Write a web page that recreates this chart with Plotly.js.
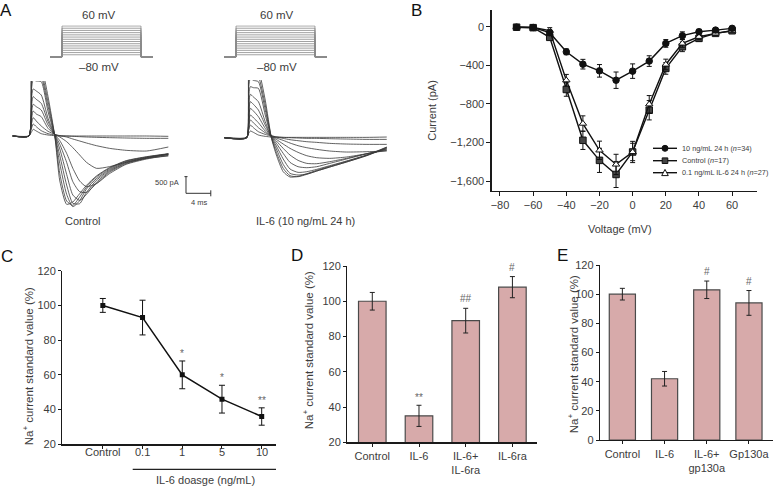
<!DOCTYPE html>
<html>
<head>
<meta charset="utf-8">
<script src="https://cdn.plot.ly/plotly-3.0.1.min.js"></script>
<style>
  body { margin: 0; background: #fff; }
  #chart { width: 774px; height: 486px; }
</style>
</head>
<body>
<div id="chart"></div>
<script>
// ---- panel A: voltage step protocol (mV) ----
var holdingPotential = -80;
var protoTime = [0, 4.9, 4.9, 37.1, 37.1, 42];
var stepVoltages = [-70, -60, -50, -40, -30, -20, -10, 0, 10, 20, 30, 40, 50, 60];

// ---- panel A: current traces (pA) against time (ms) ----
var ctrlTime = [0, 2.6, 3.0, 3.3, 3.8, 4.6, 5.7, 6.8, 7.6, 8.7, 9.7, 10.8, 11.9, 13.5, 15.6, 18.3, 21.6, 25.1];
var ctrlTraces = [
  [0, 0, 110, 200, 150, 70, 30, 10, 0, 0, 0, 0, 0, 0, 0, 0, 0, -10],
  [0, 0, 210, 360, 280, 160, 70, 30, 10, 0, -10, -20, -30, -40, -50, -60, -70, -70],
  [0, 0, 330, 550, 450, 300, 140, 50, 10, -30, -90, -150, -210, -290, -370, -430, -450, -330],
  [0, 0, 450, 750, 660, 580, 230, 50, -30, -170, -350, -570, -790, -970, -920, -790, -670, -600],
  [0, 0, 630, 950, 880, 780, 330, 40, -140, -520, -970, -1350, -1520, -1430, -1130, -850, -690, -580],
  [0, 0, 830, 1180, 1100, 980, 430, 30, -250, -790, -1370, -1670, -1690, -1430, -1090, -830, -670, -560],
  [0, 0, 1080, 1410, 1350, 1230, 530, 20, -390, -1150, -1770, -1930, -1750, -1390, -1060, -810, -660, -550],
  [0, 0, 1330, 1680, 1650, 1630, 730, 10, -590, -1470, -2020, -2030, -1690, -1330, -1030, -790, -650, -540],
  [0, 0, 1580, 1980, 1900, 1780, 880, 0, -830, -1750, -2120, -1940, -1590, -1280, -1000, -770, -640, -540],
  [0, 0, 1780, 2280, 2150, 1930, 1030, -10, -1130, -1950, -2080, -1830, -1530, -1230, -970, -750, -630, -540],
  [0, 0, 1930, 2530, 2400, 2130, 1180, -20, -1350, -2050, -1980, -1730, -1480, -1200, -950, -740, -620, -530]
];
var il6Time = [0, 3.6, 3.9, 4.2, 4.7, 5.5, 6.6, 7.6, 8.4, 9.5, 10.6, 11.9, 13.3, 14.9, 17.0, 19.7, 23.0, 26.2];
var il6Traces = [
  [0, 0, 120, 200, 160, 80, 40, 20, 10, 10, 10, 10, 10, 10, 10, 10, 10, 20],
  [0, 0, 220, 380, 300, 180, 100, 50, 30, 10, 0, -10, -20, -20, -30, -40, -50, -50],
  [0, 0, 330, 530, 450, 300, 150, 60, 20, -20, -60, -90, -120, -140, -170, -190, -200, -200],
  [0, 0, 430, 680, 600, 450, 200, 60, -10, -80, -160, -240, -300, -350, -400, -430, -420, -400],
  [0, 0, 580, 880, 800, 630, 280, 50, -50, -190, -320, -440, -540, -600, -620, -580, -480, -380],
  [0, 0, 760, 1080, 1000, 830, 380, 40, -100, -320, -520, -680, -770, -780, -720, -620, -480, -360],
  [0, 0, 960, 1300, 1220, 1080, 480, 30, -170, -470, -740, -870, -900, -870, -770, -640, -480, -340],
  [0, 0, 1200, 1530, 1500, 1480, 680, 20, -250, -640, -940, -1040, -1020, -950, -840, -700, -520, -320],
  [0, 0, 1440, 1780, 1720, 1680, 830, 10, -340, -800, -1070, -1120, -1090, -1000, -880, -730, -540, -300],
  [0, 0, 1660, 2080, 1950, 1830, 980, 0, -440, -920, -1140, -1170, -1100, -1000, -880, -730, -530, -290],
  [0, 0, 1830, 2380, 2200, 2030, 1130, -10, -520, -1020, -1180, -1160, -1080, -980, -860, -710, -520, -280]
];
var scaleBarTime = 4;      // ms
var scaleBarCurrent = 500; // pA

// ---- panel B: I-V curves ----
var voltages = [-70, -60, -50, -40, -30, -20, -10, 0, 10, 20, 30, 40, 50, 60];
var ivHigh = [-5, -8, -62, -260, -388, -457, -554, -460, -356, -173, -93, -52, -35, -17];
var ivHighErr = [10, 10, 30, 30, 50, 65, 85, 75, 55, 40, 40, 25, 20, 15];
var ivCtrl = [-5, -10, -110, -650, -1176, -1384, -1530, -1297, -865, -432, -208, -121, -69, -42];
var ivCtrlErr = [10, 10, 25, 70, 95, 125, 135, 110, 100, 60, 50, 30, 20, 15];
var ivLow = [-5, -8, -40, -554, -1003, -1280, -1426, -1297, -803, -391, -173, -104, -69, -42];
var ivLowErr = [10, 10, 30, 60, 80, 95, 105, 90, 90, 55, 40, 30, 20, 15];
var ivNames = ['10 ng/mL 24 h (<i>n</i>=34)', 'Control (<i>n</i>=17)', '0.1 ng/mL IL-6 24 h (<i>n</i>=27)'];

// ---- panel C: dose response ----
var doseLabels = ['Control', '0.1', '1', '5', '10'];
var doseValues = [100, 93, 60, 46, 36];
var doseErr = [4, 10, 8, 8, 5];
var doseMarks = ['', '', '*', '*', '**'];

// ---- panel D: IL-6ra ----
var raLabels = ['Control', 'IL-6', 'IL-6+<br>IL-6ra', 'IL-6ra'];
var raValues = [100, 35, 89, 108];
var raErr = [5, 6, 7, 6];
var raMarks = ['', '**', '##', '#'];

// ---- panel E: gp130a ----
var gpLabels = ['Control', 'IL-6', 'IL-6+<br>gp130a', 'Gp130a'];
var gpValues = [100, 42, 103, 94];
var gpErr = [4, 5, 6, 8.5];
var gpMarks = ['', '', '#', '#'];

var W = 774, H = 486;
var FONT = 'Liberation Sans, Arial, sans-serif';
var TXT = '#3c3c3c';
var BAR = '#D7AAAA';
function px(x) { return x / W; }
function py(y) { return 1 - y / H; }

var data = [];

// step protocols
stepVoltages.forEach(function (v) {
  ['', '2'].forEach(function (n) {
    data.push({
      x: protoTime, y: [holdingPotential, holdingPotential, v, v, holdingPotential, holdingPotential],
      xaxis: 'x' + n, yaxis: 'y' + n, mode: 'lines',
      line: { color: '#8a8a8a', width: 0.8 }, hoverinfo: 'skip'
    });
  });
});

// current families
ctrlTraces.forEach(function (tr) {
  data.push({ x: ctrlTime, y: tr, xaxis: 'x3', yaxis: 'y3', mode: 'lines',
    line: { color: '#3a3a3a', width: 0.8, shape: 'spline', smoothing: 0.6 }, hoverinfo: 'skip' });
});
il6Traces.forEach(function (tr) {
  data.push({ x: il6Time, y: tr, xaxis: 'x4', yaxis: 'y4', mode: 'lines',
    line: { color: '#3a3a3a', width: 0.8, shape: 'spline', smoothing: 0.6 }, hoverinfo: 'skip' });
});

// I-V curves
function ivTrace(y, err, symbol, fill) {
  return {
    x: voltages, y: y, xaxis: 'x5', yaxis: 'y5', mode: 'lines+markers',
    line: { color: '#111', width: 1.4 },
    marker: { symbol: symbol, size: 6.5, color: fill, line: { color: '#111', width: 1 } },
    error_y: { type: 'data', array: err, visible: true, color: '#111', thickness: 1, width: 2.5 }
  };
}
data.push(ivTrace(ivCtrl, ivCtrlErr, 'square', '#444'));
data.push(ivTrace(ivLow, ivLowErr, 'triangle-up', '#fff'));
data.push(ivTrace(ivHigh, ivHighErr, 'circle', '#111'));

// dose response
data.push({
  x: doseLabels, y: doseValues, xaxis: 'x6', yaxis: 'y6', mode: 'lines+markers',
  line: { color: '#111', width: 1.5 },
  marker: { symbol: 'square', size: 5, color: '#111' },
  error_y: { type: 'data', array: doseErr, visible: true, color: '#111', thickness: 1, width: 3 }
});

function barTrace(x, y, err, xa, ya, w) {
  return {
    type: 'bar', x: x, y: y, xaxis: xa, yaxis: ya, width: w,
    marker: { color: BAR, line: { color: '#4a4a4a', width: 1.2 } },
    error_y: { type: 'data', array: err, visible: true, color: '#222', thickness: 1, width: 2.5 }
  };
}
data.push(barTrace(raLabels, raValues, raErr, 'x7', 'y7', 0.59));
data.push(barTrace(gpLabels, gpValues, gpErr, 'x8', 'y8', 0.62));

function blank(d, r, anchor) {
  return { domain: d, range: r, visible: false, fixedrange: true, anchor: anchor };
}
function axis(d, r, anchor, extra) {
  var a = {
    domain: d, range: r, anchor: anchor, showline: true, linecolor: '#1a1a1a', linewidth: 1.3,
    ticks: 'outside', ticklen: 4, tickwidth: 1, tickcolor: '#1a1a1a', showgrid: false, zeroline: false,
    tickfont: { family: FONT, size: 11, color: TXT }, fixedrange: true
  };
  return Object.assign(a, extra || {});
}

var annotations = [];
function txt(text, x, y, size, extra) {
  annotations.push(Object.assign({
    text: text, x: px(x), y: py(y), xref: 'paper', yref: 'paper', showarrow: false,
    xanchor: 'center', yanchor: 'middle', font: { family: FONT, size: size, color: TXT }
  }, extra || {}));
}
var letterFont = { family: FONT, size: 17, color: '#111' };
// panel letters
txt('A', 5.5, 11, 17, { font: letterFont });
txt('B', 416.7, 11, 17, { font: letterFont });
txt('C', 7, 256, 17, { font: letterFont });
txt('D', 297, 255, 17, { font: letterFont });
txt('E', 562, 255, 17, { font: letterFont });
// panel A text
txt('60 mV', 99.3, 15, 11.5);
txt('\u201380 mV', 99.3, 66.7, 11.5);
txt('60 mV', 277.3, 15, 11.5);
txt('\u201380 mV', 277.3, 66.7, 11.5);
txt('Control', 82.3, 220.7, 11);
txt('IL-6 (10 ng/mL 24 h)', 305, 220.7, 11);
txt('500 pA', 181, 182.7, 7.5, { xanchor: 'right' });
txt('4 ms', 199, 202.3, 7.5);
// panel B titles and legend
txt('Current (pA)', 431.7, 110, 11, { textangle: -90 });
txt('Voltage (mV)', 620, 229.3, 11);
var legendRows = [148.3, 160.7, 172.7];
ivNames.forEach(function (n, i) { txt(n, 679.5, legendRows[i], 7.3, { xanchor: 'left' }); });
// panel C-E titles
var naTitle = 'Na<sup>+</sup> current standard value (%)';
txt(naTitle, 28.3, 366, 11.5, { textangle: -90 });
txt(naTitle, 308.3, 350, 11.5, { textangle: -90 });
txt(naTitle, 573.3, 354, 11.5, { textangle: -90 });
txt('IL-6 doasge (ng/mL)', 205.3, 480, 11);
// panel C category labels sit close to the axis
doseLabels.forEach(function (lab, i) {
  annotations.push({ text: lab, x: i, y: py(452), xref: 'x6', yref: 'paper', showarrow: false,
    yanchor: 'middle', font: { family: FONT, size: 11, color: TXT } });
});

// significance marks above error bars
function marks(vals, errs, ms, xa, ya) {
  ms.forEach(function (m, i) {
    if (!m) return;
    annotations.push({
      text: m, x: i, y: vals[i] + errs[i], xref: xa, yref: ya, showarrow: false,
      yanchor: 'bottom', yshift: m.charAt(0) === '#' ? 2 : 0,
      font: { family: FONT, size: 10, color: '#666' }
    });
  });
}
marks(doseValues, doseErr, doseMarks, 'x6', 'y6');
marks(raValues, raErr, raMarks, 'x7', 'y7');
marks(gpValues, gpErr, gpMarks, 'x8', 'y8');

var shapes = [];
// scale bar
var sbT = 27.95, sbI = -1719;
shapes.push({ type: 'line', xref: 'x3', yref: 'y3', x0: sbT, x1: sbT, y0: sbI, y1: sbI + scaleBarCurrent, line: { color: '#333', width: 1 } });
shapes.push({ type: 'line', xref: 'x3', yref: 'y3', x0: sbT, x1: sbT + scaleBarTime, y0: sbI, y1: sbI, line: { color: '#333', width: 1 } });
shapes.push({ type: 'line', xref: 'x3', yref: 'y3', x0: sbT - 0.25, x1: sbT + 0.25, y0: sbI + scaleBarCurrent, y1: sbI + scaleBarCurrent, line: { color: '#333', width: 1 } });
shapes.push({ type: 'line', xref: 'x3', yref: 'y3', x0: sbT + scaleBarTime, x1: sbT + scaleBarTime, y0: sbI - 90, y1: sbI + 90, line: { color: '#333', width: 1 } });
// legend glyphs for panel B
legendRows.forEach(function (yy) {
  shapes.push({ type: 'line', xref: 'paper', yref: 'paper', x0: px(653), x1: px(677), y0: py(yy), y1: py(yy), line: { color: '#111', width: 1.4 } });
});
shapes.push({ type: 'circle', xref: 'paper', yref: 'paper', x0: px(662), x1: px(668), y0: py(151.3), y1: py(145.3), fillcolor: '#111', line: { color: '#111', width: 1 } });
shapes.push({ type: 'rect', xref: 'paper', yref: 'paper', x0: px(662.2), x1: px(667.8), y0: py(163.5), y1: py(157.9), fillcolor: '#444', line: { color: '#111', width: 1 } });
shapes.push({ type: 'path', xref: 'paper', yref: 'paper',
  path: 'M' + px(661.7) + ',' + py(175.6) + ' L' + px(668.3) + ',' + py(175.6) + ' L' + px(665) + ',' + py(169.4) + ' Z',
  fillcolor: '#fff', line: { color: '#111', width: 1 } });
// bracket under dose labels
shapes.push({ type: 'line', xref: 'paper', yref: 'paper', x0: px(132.7), x1: px(276), y0: py(469.3), y1: py(469.3), line: { color: '#222', width: 1.2 } });

var layout = {
  width: W, height: H, margin: { l: 0, r: 0, t: 0, b: 0 },
  paper_bgcolor: '#fff', plot_bgcolor: 'rgba(0,0,0,0)', showlegend: false,
  font: { family: FONT, color: TXT },
  xaxis: blank([px(50), px(153)], [0, 42], 'y'),
  yaxis: blank([py(57.66), py(25.34)], [-83, 63], 'x'),
  xaxis2: blank([px(224), px(327)], [0, 42], 'y2'),
  yaxis2: blank([py(57.66), py(25.34)], [-83, 63], 'x2'),
  xaxis3: blank([px(9.6), px(214.2)], [-0.5, 32.5], 'y3'),
  yaxis3: blank([py(210), py(81)], [-2220, 1650], 'x3'),
  xaxis4: blank([px(221.2), px(391.7)], [-0.5, 27], 'y4'),
  yaxis4: blank([py(210), py(80)], [-2169, 1731], 'x4'),
  xaxis5: axis([px(491.7), px(757)], [-85, 75], 'y5', { tick0: -80, dtick: 20 }),
  yaxis5: axis([py(190.7), py(10)], [-1698, 173], 'x5', { tick0: 0, dtick: 400, tickformat: ',' }),
  xaxis6: axis([px(62.3), px(276)], [-1.02, 4.36], 'y6', { type: 'category', ticklen: 3, showticklabels: false }),
  yaxis6: axis([py(444.3), py(270.7)], [20, 120], 'x6', { dtick: 20, ticklen: 3 }),
  xaxis7: axis([px(347.3), px(536.7)], [-0.535, 3.52], 'y7', { type: 'category', ticklen: 3 }),
  yaxis7: axis([py(442.3), py(266)], [20, 120], 'x7', { dtick: 20, ticklen: 3 }),
  xaxis8: axis([px(600), px(773)], [-0.53, 3.57], 'y8', { type: 'category', ticklen: 3 }),
  yaxis8: axis([py(440), py(265)], [0, 120], 'x8', { dtick: 20, ticklen: 3 }),
  annotations: annotations,
  shapes: shapes
};

Plotly.newPlot('chart', data, layout, { staticPlot: true, displayModeBar: false });
</script>
</body>
</html>
